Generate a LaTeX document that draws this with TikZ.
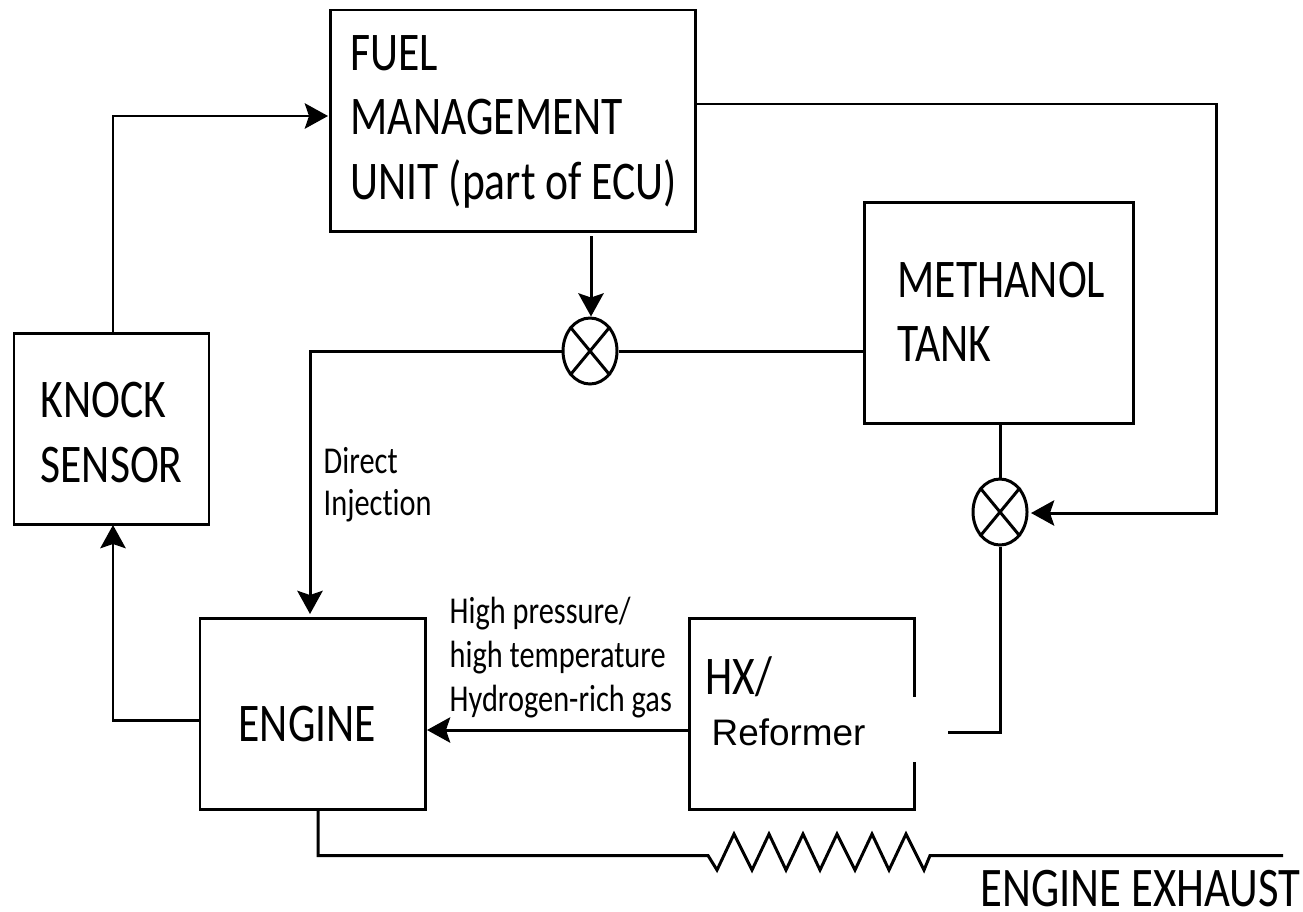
\documentclass[tikz,border=0pt]{standalone}
\usepackage{fontspec}
\setmainfont{Liberation Sans}
\newfontfamily\labelfont[FakeStretch=0.80, Ligatures=NoCommon]{Carlito}
\usetikzlibrary{positioning, shapes.geometric, arrows.meta, calc}
\tikzset{
  blockbox/.style={draw=black, line width=0.85pt, inner sep=0pt},
  valve/.style={draw=black, line width=0.85pt, fill=white, ellipse, inner sep=0pt, minimum width=0.54cm, minimum height=0.66cm},
  flow/.style={draw=black, line width=0.85pt},
  flowarrow/.style={flow, -{Stealth[length=6.6pt, width=7.2pt, inset=1.2pt]}},
  biglabel/.style={anchor=base west, inner sep=0pt, font=\labelfont\fontsize{15.5}{18}\selectfont},
  smalllabel/.style={anchor=base west, inner sep=0pt, font=\labelfont\fontsize{10.8}{12}\selectfont},
}
\begin{document}
\begin{tikzpicture}
\useasboundingbox (0,0) rectangle (13.03,9.11);

% Blocks
\node[blockbox, minimum width=3.65cm, minimum height=2.21cm] (fuel) at (5.125,7.905) {};
\node[blockbox, minimum width=2.69cm, minimum height=2.21cm] (tank) at (9.985,5.985) {};
\node[blockbox, minimum width=1.95cm, minimum height=1.91cm] (knock) at (1.115,4.825) {};
\node[blockbox, minimum width=2.25cm, minimum height=1.91cm] (engine) at (3.125,1.975) {};
\node[blockbox, minimum width=2.25cm, minimum height=1.91cm] (hx) at (8.015,1.975) {};

% White patch over the right side of the HX block
\fill[white] (7.00,1.49) rectangle (9.48,2.14);

% Valves
\node[valve] (valvea) at (5.90,5.60) {};
\node[valve] (valveb) at (10.00,3.99) {};
\draw[flow] (valvea.north west) -- (valvea.south east);
\draw[flow] (valvea.north east) -- (valvea.south west);
\draw[flow] (valveb.north west) -- (valveb.south east);
\draw[flow] (valveb.north east) -- (valveb.south west);

% Free ends of the connectors
\coordinate (knockout) at (1.13,5.78);
\coordinate (knockin) at (1.13,3.86);
\coordinate (fuelin) at (3.28,7.95);
\coordinate (fuelctl) at (5.91,6.75);
\coordinate (fuelout) at (6.95,8.07);
\coordinate (returncorner) at (12.16,3.98);
\coordinate (valvebin) at (10.31,3.98);
\coordinate (tankout) at (10.00,4.88);
\coordinate (tankin) at (8.64,5.60);
\coordinate (injectcorner) at (3.10,5.60);
\coordinate (enginein) at (3.10,2.97);
\coordinate (hxout) at (6.89,1.81);
\coordinate (enginehx) at (4.27,1.81);
\coordinate (engineout) at (2.00,1.91);
\coordinate (reformerin) at (9.48,1.79);
\coordinate (exhauststart) at (3.18,1.02);
\coordinate (exhaustin) at (7.08,0.555);
\coordinate (exhaustout) at (9.30,0.555);
\coordinate (exhaustend) at (12.83,0.555);

% Connectors
\draw[flowarrow] (knockout) |- (fuelin);
\draw[flowarrow] (fuelctl) -- (valvea.north -| fuelctl);
\draw[flowarrow] (valvea.west) -- (injectcorner) -- (enginein);
\draw[flow] (valvea.east) -- (tankin);
\draw[flowarrow] (fuelout) -| (returncorner) -- (valvebin);
\draw[flow] (tankout) -- (valveb.north);
\draw[flow] (valveb.south) |- (reformerin);
\draw[flowarrow] (hxout) -- (enginehx);
\draw[flowarrow] (engineout) -| (knockin);
\draw[flow] (exhauststart) |- (exhaustin)
  -- (7.17,0.41) -- (7.34,0.77) -- (7.52,0.41) -- (7.69,0.77) -- (7.86,0.41) -- (8.03,0.77)
  -- (8.20,0.41) -- (8.37,0.77) -- (8.55,0.41) -- (8.72,0.77) -- (8.89,0.41) -- (9.06,0.77)
  -- (9.24,0.41) -- (exhaustout) -- (exhaustend);

% Labels
\node[biglabel] (fuelone) at (3.50,8.41) {FUEL};
\node[biglabel] (fueltwo) at (3.50,7.77) {MANAGEMENT};
\node[biglabel] (fuelthree) at (3.50,7.12) {UNIT (part of ECU)};
\node[biglabel] (tankone) at (8.97,6.14) {METHANOL};
\node[biglabel] (tanktwo) at (8.97,5.50) {TANK};
\node[biglabel] (knockone) at (0.40,4.94) {KNOCK};
\node[biglabel] (knocktwo) at (0.40,4.29) {SENSOR};
\node[biglabel] (enginelabel) at (2.38,1.70) {ENGINE};
\node[biglabel] (hxlabel) at (7.05,2.17) {HX/};
\node[anchor=base west, inner sep=0pt, font=\fontsize{10.5}{12}\selectfont] (reformer) at (7.11,1.66) {Reformer};
\node[biglabel, font=\labelfont\fontsize{15.9}{18}\selectfont] (exhaustlabel) at (9.80,0.05) {ENGINE EXHAUST};
\node[smalllabel] (directone) at (3.23,4.38) {Direct};
\node[smalllabel] (directtwo) at (3.23,3.96) {Injection};
\node[smalllabel] (gasone) at (4.49,2.88) {High pressure/};
\node[smalllabel] (gastwo) at (4.49,2.44) {high temperature};
\node[smalllabel] (gasthree) at (4.49,2.00) {Hydrogen-rich gas};
\end{tikzpicture}
\end{document}
